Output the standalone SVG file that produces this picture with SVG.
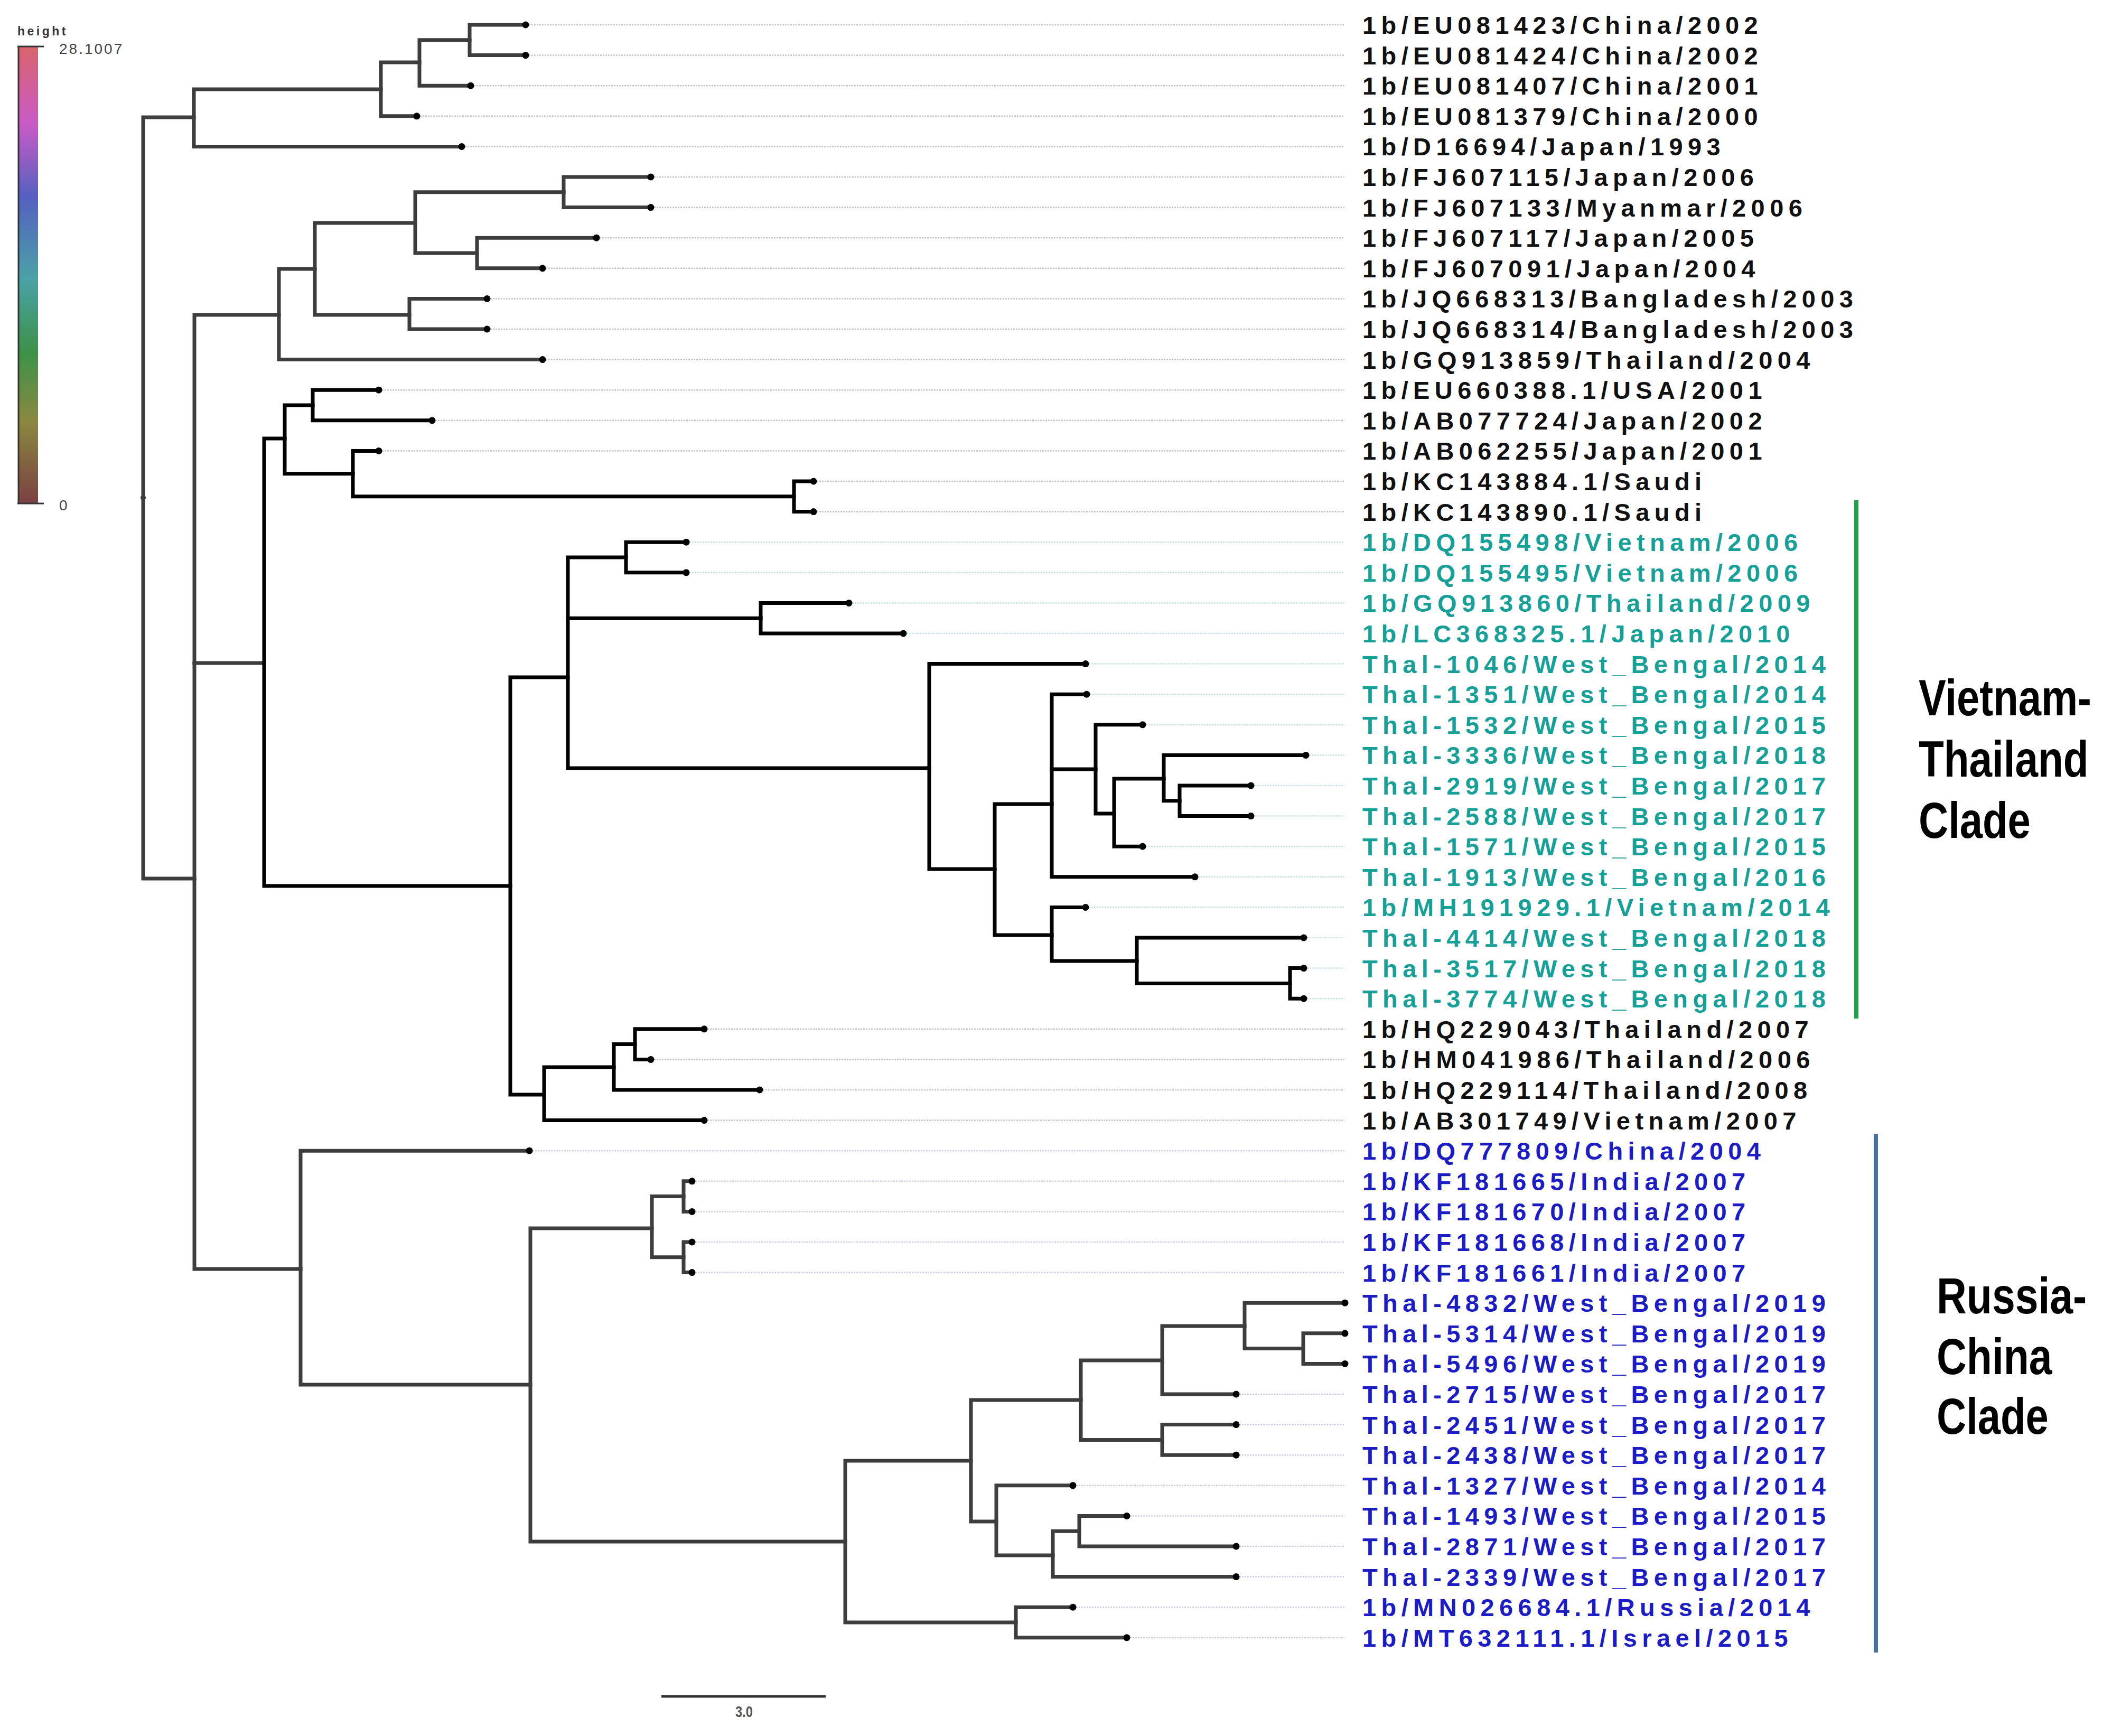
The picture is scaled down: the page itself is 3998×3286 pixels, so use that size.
<svg xmlns="http://www.w3.org/2000/svg" width="3998" height="3286" viewBox="0 0 3998 3286">
<style>
.lbl{font-family:"Liberation Sans",Arial,sans-serif;font-weight:bold;font-size:47px;letter-spacing:9.4px}
.k{fill:#111}.t{fill:#17a097}.b{fill:#1c1cc4}
.tg{fill:none;stroke:#3d3d3d;stroke-width:7;stroke-linejoin:miter;stroke-linecap:square}
.tb{fill:none;stroke:#000;stroke-width:7;stroke-linejoin:miter;stroke-linecap:square}
.gk{stroke:#c4c4c4;stroke-width:2.5;stroke-dasharray:3 2}
.gt{stroke:#c2e4e0;stroke-width:2.5;stroke-dasharray:3 2}
.gb{stroke:#cdcdea;stroke-width:2.5;stroke-dasharray:3 2}
.clade{font-family:"Liberation Sans",Arial,sans-serif;font-weight:bold;font-size:96px;fill:#000}
.leg{font-family:"Liberation Sans",Arial,sans-serif;fill:#444}
</style>
<defs>
<linearGradient id="hg" x1="0" y1="0" x2="0" y2="1">
<stop offset="0" stop-color="#d9636c"/>
<stop offset="0.17" stop-color="#c95bc6"/>
<stop offset="0.33" stop-color="#5560c0"/>
<stop offset="0.51" stop-color="#4aa2a6"/>
<stop offset="0.67" stop-color="#3d9148"/>
<stop offset="0.82" stop-color="#8a8840"/>
<stop offset="1" stop-color="#7a4042"/>
</linearGradient>
</defs>
<rect width="3998" height="3286" fill="#fff"/>

<g id="legend">
<text x="33" y="67" class="leg" style="font-size:23px;font-weight:bold;letter-spacing:4.5px;fill:#333">height</text>
<rect x="36" y="88" width="36" height="865" fill="url(#hg)"/>
<line x1="35" y1="88" x2="35" y2="953" stroke="#333" stroke-width="3"/>
<line x1="33" y1="88" x2="83" y2="88" stroke="#333" stroke-width="3"/>
<line x1="33" y1="953" x2="83" y2="953" stroke="#333" stroke-width="3"/>
<text x="112" y="102" class="leg" style="font-size:28px;letter-spacing:3px">28.1007</text>
<text x="112" y="966" class="leg" style="font-size:28px">0</text>
</g>

<g id="scale-bar">
<line x1="1252" y1="3211" x2="1563" y2="3211" stroke="#333" stroke-width="5"/>
<text x="1392" y="3250" textLength="33" lengthAdjust="spacingAndGlyphs" style="font-family:'Liberation Sans',Arial,sans-serif;font-weight:bold;font-size:30px;fill:#555">3.0</text>
</g>

<g id="connectors">
<circle cx="271" cy="942" r="5" fill="#333"/>
<path class="tg" d="M367,222 H271 V1663 H368"/>
<path class="tg" d="M721,169 H367 V277.4 H874"/>
<path class="tg" d="M794,118 H721 V219.8 H789"/>
<path class="tg" d="M889,75.8 H794 V162.2 H891"/>
<path class="tg" d="M995,47 H889 V104.6 H995"/>
<path class="tg" d="M528,596 H368 V2402 H569"/>
<path class="tg" d="M368,1255 H500"/>
<path class="tg" d="M596,509 H528 V680.6 H1027"/>
<path class="tg" d="M786,422 H596 V596 H775"/>
<path class="tg" d="M1067,363.8 H786 V479 H903"/>
<path class="tg" d="M1232,335 H1067 V392.6 H1232"/>
<path class="tg" d="M1129,450.2 H903 V507.8 H1027"/>
<path class="tg" d="M922,565.4 H775 V623 H922"/>

<path class="tb" d="M539,830 H500 V1677 H966"/>
<path class="tb" d="M592,767 H539 V896.7 H668"/>
<path class="tb" d="M717,738.2 H592 V795.8 H818"/>
<path class="tb" d="M717,853.4 H668 V939.8 H1503"/>
<path class="tb" d="M1540,911 H1503 V968.6 H1540"/>
<path class="tb" d="M1075,1282 H966 V2072 H1030"/>
<path class="tb" d="M1185,1055 H1075 V1454 H1759"/>
<path class="tb" d="M1075,1170.2 H1440"/>
<path class="tb" d="M1299,1026.2 H1185 V1083.8 H1299"/>
<path class="tb" d="M1607,1141.4 H1440 V1199 H1710"/>
<path class="tb" d="M2055,1256.6 H1759 V1645 H1883"/>
<path class="tb" d="M1991,1522 H1883 V1770 H1991"/>
<path class="tb" d="M2057,1314.2 H1991 V1659.8 H2262"/>
<path class="tb" d="M1991,1456 H2074"/>
<path class="tb" d="M2163,1371.8 H2074 V1540 H2109"/>
<path class="tb" d="M2203,1474 H2109 V1602.2 H2163"/>
<path class="tb" d="M2472,1429.4 H2203 V1515.8 H2233"/>
<path class="tb" d="M2368,1487 H2233 V1544.6 H2368"/>
<path class="tb" d="M2055,1717.4 H1991 V1819 H2152"/>
<path class="tb" d="M2468,1775 H2152 V1861.4 H2442"/>
<path class="tb" d="M2468,1832.6 H2442 V1890.2 H2468"/>
<path class="tb" d="M1162,2020 H1030 V2120.6 H1333"/>
<path class="tb" d="M1202,1976.6 H1162 V2063 H1438"/>
<path class="tb" d="M1333,1947.8 H1202 V2005.4 H1232"/>

<path class="tg" d="M1002,2178.2 H569 V2621 H1004"/>
<path class="tg" d="M1234,2325 H1004 V2918 H1600"/>
<path class="tg" d="M1294,2264.6 H1234 V2379.8 H1294"/>
<path class="tg" d="M1310,2235.8 H1294 V2293.4 H1310"/>
<path class="tg" d="M1310,2351 H1294 V2408.6 H1310"/>
<path class="tg" d="M1838,2765 H1600 V3071 H1923"/>
<path class="tg" d="M2046,2650 H1838 V2880 H1886"/>
<path class="tg" d="M2200,2575 H2046 V2725.4 H2200"/>
<path class="tg" d="M2356,2510 H2200 V2639 H2340"/>
<path class="tg" d="M2546,2466.2 H2356 V2552.6 H2467"/>
<path class="tg" d="M2546,2523.8 H2467 V2581.4 H2546"/>
<path class="tg" d="M2340,2696.6 H2200 V2754.2 H2340"/>
<path class="tg" d="M2031,2811.8 H1886 V2944 H1993"/>
<path class="tg" d="M2043,2898.2 H1993 V2984.6 H2340"/>
<path class="tg" d="M2133,2869.4 H2043 V2927 H2340"/>
<path class="tg" d="M2031,3042.2 H1923 V3099.8 H2133"/>
</g>

<g id="leaf-01"><line class="gk" x1="1001" y1="47" x2="2545" y2="47"/><circle cx="995" cy="47" r="6.5"/><text class="lbl k" x="2579" y="64">1b/EU081423/China/2002</text></g>
<g id="leaf-02"><line class="gk" x1="1001" y1="104.6" x2="2545" y2="104.6"/><circle cx="995" cy="104.6" r="6.5"/><text class="lbl k" x="2579" y="121.6">1b/EU081424/China/2002</text></g>
<g id="leaf-03"><line class="gk" x1="897" y1="162.2" x2="2545" y2="162.2"/><circle cx="891" cy="162.2" r="6.5"/><text class="lbl k" x="2579" y="179.2">1b/EU081407/China/2001</text></g>
<g id="leaf-04"><line class="gk" x1="795" y1="219.8" x2="2545" y2="219.8"/><circle cx="789" cy="219.8" r="6.5"/><text class="lbl k" x="2579" y="236.8">1b/EU081379/China/2000</text></g>
<g id="leaf-05"><line class="gk" x1="880" y1="277.4" x2="2545" y2="277.4"/><circle cx="874" cy="277.4" r="6.5"/><text class="lbl k" x="2579" y="294.4">1b/D16694/Japan/1993</text></g>
<g id="leaf-06"><line class="gk" x1="1238" y1="335" x2="2545" y2="335"/><circle cx="1232" cy="335" r="6.5"/><text class="lbl k" x="2579" y="352">1b/FJ607115/Japan/2006</text></g>
<g id="leaf-07"><line class="gk" x1="1238" y1="392.6" x2="2545" y2="392.6"/><circle cx="1232" cy="392.6" r="6.5"/><text class="lbl k" x="2579" y="409.6">1b/FJ607133/Myanmar/2006</text></g>
<g id="leaf-08"><line class="gk" x1="1135" y1="450.2" x2="2545" y2="450.2"/><circle cx="1129" cy="450.2" r="6.5"/><text class="lbl k" x="2579" y="467.2">1b/FJ607117/Japan/2005</text></g>
<g id="leaf-09"><line class="gk" x1="1033" y1="507.8" x2="2545" y2="507.8"/><circle cx="1027" cy="507.8" r="6.5"/><text class="lbl k" x="2579" y="524.8">1b/FJ607091/Japan/2004</text></g>
<g id="leaf-10"><line class="gk" x1="928" y1="565.4" x2="2545" y2="565.4"/><circle cx="922" cy="565.4" r="6.5"/><text class="lbl k" x="2579" y="582.4">1b/JQ668313/Bangladesh/2003</text></g>
<g id="leaf-11"><line class="gk" x1="928" y1="623" x2="2545" y2="623"/><circle cx="922" cy="623" r="6.5"/><text class="lbl k" x="2579" y="640">1b/JQ668314/Bangladesh/2003</text></g>
<g id="leaf-12"><line class="gk" x1="1033" y1="680.6" x2="2545" y2="680.6"/><circle cx="1027" cy="680.6" r="6.5"/><text class="lbl k" x="2579" y="697.6">1b/GQ913859/Thailand/2004</text></g>
<g id="leaf-13"><line class="gk" x1="723" y1="738.2" x2="2545" y2="738.2"/><circle cx="717" cy="738.2" r="6.5"/><text class="lbl k" x="2579" y="755.2">1b/EU660388.1/USA/2001</text></g>
<g id="leaf-14"><line class="gk" x1="824" y1="795.8" x2="2545" y2="795.8"/><circle cx="818" cy="795.8" r="6.5"/><text class="lbl k" x="2579" y="812.8">1b/AB077724/Japan/2002</text></g>
<g id="leaf-15"><line class="gk" x1="723" y1="853.4" x2="2545" y2="853.4"/><circle cx="717" cy="853.4" r="6.5"/><text class="lbl k" x="2579" y="870.4">1b/AB062255/Japan/2001</text></g>
<g id="leaf-16"><line class="gk" x1="1546" y1="911" x2="2545" y2="911"/><circle cx="1540" cy="911" r="6.5"/><text class="lbl k" x="2579" y="928">1b/KC143884.1/Saudi</text></g>
<g id="leaf-17"><line class="gk" x1="1546" y1="968.6" x2="2545" y2="968.6"/><circle cx="1540" cy="968.6" r="6.5"/><text class="lbl k" x="2579" y="985.6">1b/KC143890.1/Saudi</text></g>
<g id="leaf-18"><line class="gt" x1="1305" y1="1026.2" x2="2545" y2="1026.2"/><circle cx="1299" cy="1026.2" r="6.5"/><text class="lbl t" x="2579" y="1043.2">1b/DQ155498/Vietnam/2006</text></g>
<g id="leaf-19"><line class="gt" x1="1305" y1="1083.8" x2="2545" y2="1083.8"/><circle cx="1299" cy="1083.8" r="6.5"/><text class="lbl t" x="2579" y="1100.8">1b/DQ155495/Vietnam/2006</text></g>
<g id="leaf-20"><line class="gt" x1="1613" y1="1141.4" x2="2545" y2="1141.4"/><circle cx="1607" cy="1141.4" r="6.5"/><text class="lbl t" x="2579" y="1158.4">1b/GQ913860/Thailand/2009</text></g>
<g id="leaf-21"><line class="gt" x1="1716" y1="1199" x2="2545" y2="1199"/><circle cx="1710" cy="1199" r="6.5"/><text class="lbl t" x="2579" y="1216">1b/LC368325.1/Japan/2010</text></g>
<g id="leaf-22"><line class="gt" x1="2061" y1="1256.6" x2="2545" y2="1256.6"/><circle cx="2055" cy="1256.6" r="6.5"/><text class="lbl t" x="2579" y="1273.6">Thal-1046/West_Bengal/2014</text></g>
<g id="leaf-23"><line class="gt" x1="2063" y1="1314.2" x2="2545" y2="1314.2"/><circle cx="2057" cy="1314.2" r="6.5"/><text class="lbl t" x="2579" y="1331.2">Thal-1351/West_Bengal/2014</text></g>
<g id="leaf-24"><line class="gt" x1="2169" y1="1371.8" x2="2545" y2="1371.8"/><circle cx="2163" cy="1371.8" r="6.5"/><text class="lbl t" x="2579" y="1388.8">Thal-1532/West_Bengal/2015</text></g>
<g id="leaf-25"><line class="gt" x1="2478" y1="1429.4" x2="2545" y2="1429.4"/><circle cx="2472" cy="1429.4" r="6.5"/><text class="lbl t" x="2579" y="1446.4">Thal-3336/West_Bengal/2018</text></g>
<g id="leaf-26"><line class="gt" x1="2374" y1="1487" x2="2545" y2="1487"/><circle cx="2368" cy="1487" r="6.5"/><text class="lbl t" x="2579" y="1504">Thal-2919/West_Bengal/2017</text></g>
<g id="leaf-27"><line class="gt" x1="2374" y1="1544.6" x2="2545" y2="1544.6"/><circle cx="2368" cy="1544.6" r="6.5"/><text class="lbl t" x="2579" y="1561.6">Thal-2588/West_Bengal/2017</text></g>
<g id="leaf-28"><line class="gt" x1="2169" y1="1602.2" x2="2545" y2="1602.2"/><circle cx="2163" cy="1602.2" r="6.5"/><text class="lbl t" x="2579" y="1619.2">Thal-1571/West_Bengal/2015</text></g>
<g id="leaf-29"><line class="gt" x1="2268" y1="1659.8" x2="2545" y2="1659.8"/><circle cx="2262" cy="1659.8" r="6.5"/><text class="lbl t" x="2579" y="1676.8">Thal-1913/West_Bengal/2016</text></g>
<g id="leaf-30"><line class="gt" x1="2061" y1="1717.4" x2="2545" y2="1717.4"/><circle cx="2055" cy="1717.4" r="6.5"/><text class="lbl t" x="2579" y="1734.4">1b/MH191929.1/Vietnam/2014</text></g>
<g id="leaf-31"><line class="gt" x1="2474" y1="1775" x2="2545" y2="1775"/><circle cx="2468" cy="1775" r="6.5"/><text class="lbl t" x="2579" y="1792">Thal-4414/West_Bengal/2018</text></g>
<g id="leaf-32"><line class="gt" x1="2474" y1="1832.6" x2="2545" y2="1832.6"/><circle cx="2468" cy="1832.6" r="6.5"/><text class="lbl t" x="2579" y="1849.6">Thal-3517/West_Bengal/2018</text></g>
<g id="leaf-33"><line class="gt" x1="2474" y1="1890.2" x2="2545" y2="1890.2"/><circle cx="2468" cy="1890.2" r="6.5"/><text class="lbl t" x="2579" y="1907.2">Thal-3774/West_Bengal/2018</text></g>
<g id="leaf-34"><line class="gk" x1="1339" y1="1947.8" x2="2545" y2="1947.8"/><circle cx="1333" cy="1947.8" r="6.5"/><text class="lbl k" x="2579" y="1964.8">1b/HQ229043/Thailand/2007</text></g>
<g id="leaf-35"><line class="gk" x1="1238" y1="2005.4" x2="2545" y2="2005.4"/><circle cx="1232" cy="2005.4" r="6.5"/><text class="lbl k" x="2579" y="2022.4">1b/HM041986/Thailand/2006</text></g>
<g id="leaf-36"><line class="gk" x1="1444" y1="2063" x2="2545" y2="2063"/><circle cx="1438" cy="2063" r="6.5"/><text class="lbl k" x="2579" y="2080">1b/HQ229114/Thailand/2008</text></g>
<g id="leaf-37"><line class="gk" x1="1339" y1="2120.6" x2="2545" y2="2120.6"/><circle cx="1333" cy="2120.6" r="6.5"/><text class="lbl k" x="2579" y="2137.6">1b/AB301749/Vietnam/2007</text></g>
<g id="leaf-38"><line class="gb" x1="1008" y1="2178.2" x2="2545" y2="2178.2"/><circle cx="1002" cy="2178.2" r="6.5"/><text class="lbl b" x="2579" y="2195.2">1b/DQ777809/China/2004</text></g>
<g id="leaf-39"><line class="gb" x1="1316" y1="2235.8" x2="2545" y2="2235.8"/><circle cx="1310" cy="2235.8" r="6.5"/><text class="lbl b" x="2579" y="2252.8">1b/KF181665/India/2007</text></g>
<g id="leaf-40"><line class="gb" x1="1316" y1="2293.4" x2="2545" y2="2293.4"/><circle cx="1310" cy="2293.4" r="6.5"/><text class="lbl b" x="2579" y="2310.4">1b/KF181670/India/2007</text></g>
<g id="leaf-41"><line class="gb" x1="1316" y1="2351" x2="2545" y2="2351"/><circle cx="1310" cy="2351" r="6.5"/><text class="lbl b" x="2579" y="2368">1b/KF181668/India/2007</text></g>
<g id="leaf-42"><line class="gb" x1="1316" y1="2408.6" x2="2545" y2="2408.6"/><circle cx="1310" cy="2408.6" r="6.5"/><text class="lbl b" x="2579" y="2425.6">1b/KF181661/India/2007</text></g>
<g id="leaf-43"><circle cx="2546" cy="2466.2" r="6.5"/><text class="lbl b" x="2579" y="2483.2">Thal-4832/West_Bengal/2019</text></g>
<g id="leaf-44"><circle cx="2546" cy="2523.8" r="6.5"/><text class="lbl b" x="2579" y="2540.8">Thal-5314/West_Bengal/2019</text></g>
<g id="leaf-45"><circle cx="2546" cy="2581.4" r="6.5"/><text class="lbl b" x="2579" y="2598.4">Thal-5496/West_Bengal/2019</text></g>
<g id="leaf-46"><line class="gb" x1="2346" y1="2639" x2="2545" y2="2639"/><circle cx="2340" cy="2639" r="6.5"/><text class="lbl b" x="2579" y="2656">Thal-2715/West_Bengal/2017</text></g>
<g id="leaf-47"><line class="gb" x1="2346" y1="2696.6" x2="2545" y2="2696.6"/><circle cx="2340" cy="2696.6" r="6.5"/><text class="lbl b" x="2579" y="2713.6">Thal-2451/West_Bengal/2017</text></g>
<g id="leaf-48"><line class="gb" x1="2346" y1="2754.2" x2="2545" y2="2754.2"/><circle cx="2340" cy="2754.2" r="6.5"/><text class="lbl b" x="2579" y="2771.2">Thal-2438/West_Bengal/2017</text></g>
<g id="leaf-49"><line class="gb" x1="2037" y1="2811.8" x2="2545" y2="2811.8"/><circle cx="2031" cy="2811.8" r="6.5"/><text class="lbl b" x="2579" y="2828.8">Thal-1327/West_Bengal/2014</text></g>
<g id="leaf-50"><line class="gb" x1="2139" y1="2869.4" x2="2545" y2="2869.4"/><circle cx="2133" cy="2869.4" r="6.5"/><text class="lbl b" x="2579" y="2886.4">Thal-1493/West_Bengal/2015</text></g>
<g id="leaf-51"><line class="gb" x1="2346" y1="2927" x2="2545" y2="2927"/><circle cx="2340" cy="2927" r="6.5"/><text class="lbl b" x="2579" y="2944">Thal-2871/West_Bengal/2017</text></g>
<g id="leaf-52"><line class="gb" x1="2346" y1="2984.6" x2="2545" y2="2984.6"/><circle cx="2340" cy="2984.6" r="6.5"/><text class="lbl b" x="2579" y="3001.6">Thal-2339/West_Bengal/2017</text></g>
<g id="leaf-53"><line class="gb" x1="2037" y1="3042.2" x2="2545" y2="3042.2"/><circle cx="2031" cy="3042.2" r="6.5"/><text class="lbl b" x="2579" y="3059.2">1b/MN026684.1/Russia/2014</text></g>
<g id="leaf-54"><line class="gb" x1="2139" y1="3099.8" x2="2545" y2="3099.8"/><circle cx="2133" cy="3099.8" r="6.5"/><text class="lbl b" x="2579" y="3116.8">1b/MT632111.1/Israel/2015</text></g>

<g id="clade-vietnam-thailand">
<line x1="3514" y1="946" x2="3514" y2="1928" stroke="#22a04f" stroke-width="8"/>
<text class="clade" transform="translate(3632,1354) scale(0.81,1)">Vietnam-</text>
<text class="clade" transform="translate(3632,1470) scale(0.815,1)">Thailand</text>
<text class="clade" transform="translate(3632,1586) scale(0.81,1)">Clade</text>
</g>
<g id="clade-russia-china">
<line x1="3551" y1="2146" x2="3551" y2="3128" stroke="#4a6fa5" stroke-width="8"/>
<text class="clade" transform="translate(3666,2486) scale(0.82,1)">Russia-</text>
<text class="clade" transform="translate(3666,2601) scale(0.82,1)">China</text>
<text class="clade" transform="translate(3666,2714) scale(0.81,1)">Clade</text>
</g>
</svg>
